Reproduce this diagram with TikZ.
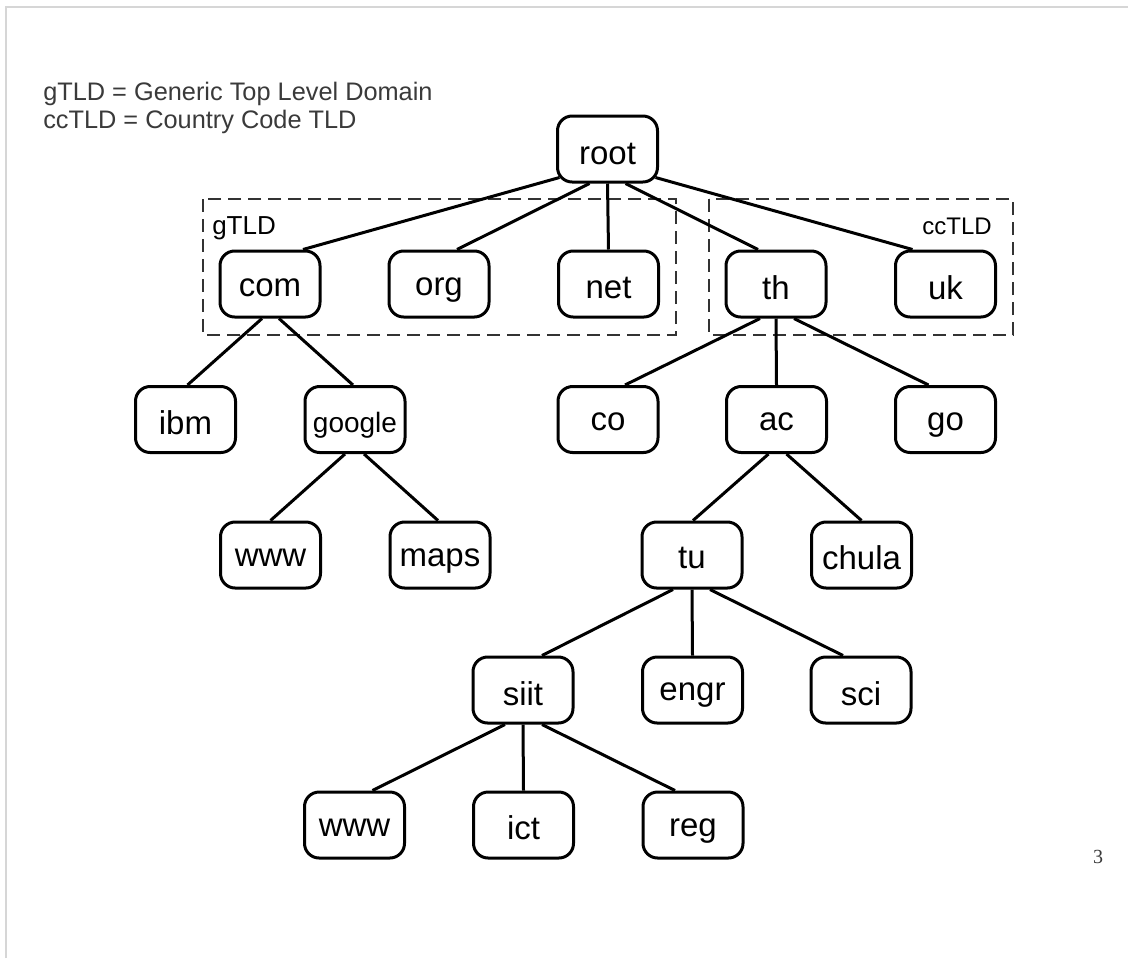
\documentclass[tikz,border=0pt]{standalone}
\usepackage{fontspec}
\setmainfont{Liberation Sans}
\newfontfamily\pagenumfont{Liberation Serif}
\usetikzlibrary{calc}
\definecolor{legendgray}{HTML}{3A3A3A}
\definecolor{framegray}{HTML}{D6D6D6}
\definecolor{dashgray}{HTML}{333333}
\begin{document}
\begin{tikzpicture}[x=0.75pt,y=-0.75pt,
  dnsbox/.style={draw=black, line width=2.25pt, rounded corners=11pt,
    minimum width=75pt, minimum height=49.5pt, inner sep=0pt,
    font=\fontsize{24.75}{28}\selectfont, text height=#1, text depth=0pt},
  dnsbox/.default=17pt,
  smallbox/.style={dnsbox=#1, font=\fontsize{21}{24}\selectfont},
  smallbox/.default=19.5pt,
  conn/.style={draw=black, line width=2.25pt},
  dashbox/.style={draw=dashgray, line width=1.5pt, dash pattern=on 9.75pt off 5.25pt},
  legend/.style={anchor=base west, text=legendgray, inner sep=0pt, font=\fontsize{19}{21}\selectfont},
  grouplabel/.style={text=black, inner sep=0pt}
]
\useasboundingbox (0,0) rectangle (1128,958);
\fill[white] (0,0) rectangle (1128,958);
\draw[framegray, line width=1.2pt] (6,958) -- (6,7) -- (1128,7);

% legend
\node[legend] (leg1) at (43,100) {gTLD = Generic Top Level Domain};
\node[legend] (leg2) at (43,128) {ccTLD = Country Code TLD};

% group boxes
\draw[dashbox] (203,199) rectangle (676,335);
\draw[dashbox] (709,199) rectangle (1013,335);
\node[grouplabel, anchor=base west, font=\fontsize{19.5}{22}\selectfont] (glab) at (212,234) {gTLD};
\node[grouplabel, anchor=base east, font=\fontsize{18}{21}\selectfont] (cclab) at (992,234) {ccTLD};

% nodes
\node[dnsbox=22.5pt] (root) at (607.5,149) {root};
\node[dnsbox=18pt] (com) at (270,284) {com};
\node[dnsbox=16.5pt] (org) at (439,284) {org};
\node[dnsbox=21pt] (net) at (608.5,284) {net};
\node[dnsbox=22.5pt] (th) at (776,284) {th};
\node[dnsbox=22.5pt] (uk) at (945.5,284) {uk};

\node[dnsbox=22.5pt] (ibm) at (185.5,419.5) {ibm};
\node[smallbox] (google) at (355,419.5) {google};
\node[dnsbox=16.5pt] (co) at (608,419.5) {co};
\node[dnsbox=16.5pt] (ac) at (776.5,419.5) {ac};
\node[dnsbox=15.75pt] (go) at (945.5,419.5) {go};

\node[dnsbox=17.25pt] (www1) at (270.5,555) {www};
\node[dnsbox=17.25pt] (maps) at (440,555) {maps};
\node[dnsbox=20.25pt] (tu) at (692,555) {tu};
\node[dnsbox=21.75pt] (chula) at (861.5,555) {chula};

\node[dnsbox=23.25pt] (siit) at (523,690) {siit};
\node[dnsbox=15pt] (engr) at (692.5,690) {engr};
\node[dnsbox=23.25pt] (sci) at (861,690) {sci};

\node[dnsbox=17.25pt] (www2) at (354.5,825) {www};
\node[dnsbox=21.75pt] (ict) at (523.5,825) {ict};
\node[dnsbox=17.25pt] (reg) at (693,825) {reg};

% connectors
\draw[conn] ($(root.south)+(-48,-6)$) -- ($(com.north)+(33,0)$);
\draw[conn] ($(root.south)+(-18,0)$) -- ($(org.north)+(18,0)$);
\draw[conn] (root.south) -- (net.north);
\draw[conn] ($(root.south)+(18,0)$) -- ($(th.north)+(-18,0)$);
\draw[conn] ($(root.south)+(48,-6)$) -- ($(uk.north)+(-33,0)$);

\draw[conn] ($(com.south)+(-8,0)$) -- ($(ibm.north)+(2,0)$);
\draw[conn] ($(com.south)+(9,0)$) -- ($(google.north)+(-2,0)$);
\draw[conn] ($(google.south)+(-10,0)$) -- (www1.north);
\draw[conn] ($(google.south)+(9,0)$) -- ($(maps.north)+(-2,0)$);

\draw[conn] ($(th.south)+(-16,0)$) -- ($(co.north)+(17,0)$);
\draw[conn] (th.south) -- (ac.north);
\draw[conn] ($(th.south)+(18,0)$) -- ($(go.north)+(-17,0)$);

\draw[conn] ($(ac.south)+(-8,0)$) -- ($(tu.north)+(1,0)$);
\draw[conn] ($(ac.south)+(10,0)$) -- (chula.north);

\draw[conn] ($(tu.south)+(-19,0)$) -- ($(siit.north)+(19,0)$);
\draw[conn] (tu.south) -- (engr.north);
\draw[conn] ($(tu.south)+(18,0)$) -- ($(sci.north)+(-18,0)$);

\draw[conn] ($(siit.south)+(-18,0)$) -- ($(www2.north)+(18,0)$);
\draw[conn] (siit.south) -- (ict.north);
\draw[conn] ($(siit.south)+(19,0)$) -- ($(reg.north)+(-18,0)$);

% page number
\node[anchor=base, text=legendgray, inner sep=0pt, font=\pagenumfont\fontsize{15}{17}\selectfont] (pagenum) at (1098,863) {3};
\end{tikzpicture}
\end{document}
